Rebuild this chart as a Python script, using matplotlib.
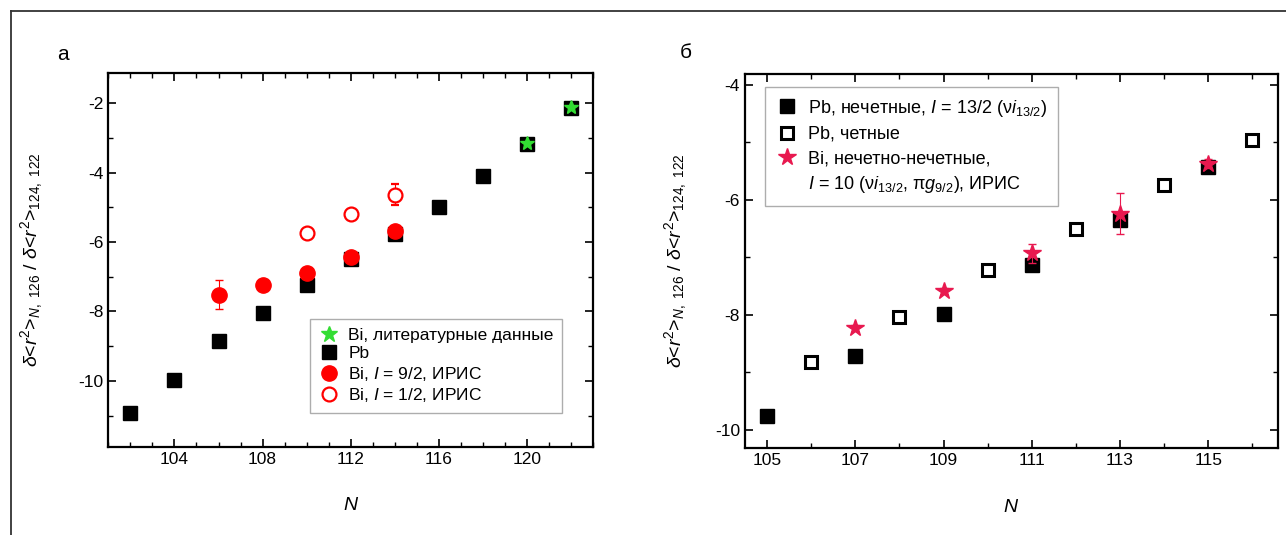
import numpy as np
import matplotlib
matplotlib.use('Agg')
import matplotlib.pyplot as plt
from matplotlib.lines import Line2D
from matplotlib.ticker import MultipleLocator

plt.rcParams['font.family'] = ['Liberation Sans', 'DejaVu Sans']
plt.rcParams['mathtext.fontset'] = 'custom'
plt.rcParams['mathtext.rm'] = 'Liberation Sans'
plt.rcParams['mathtext.it'] = 'Liberation Sans:italic'
plt.rcParams['axes.unicode_minus'] = False

# panel a data
n_pb_a = [102, 104, 106, 108, 110, 112, 114, 116, 118, 120, 122]
r_pb_a = [-10.93, -9.97, -8.85, -8.05, -7.24, -6.50, -5.78, -4.98, -4.10, -3.17, -2.14]
n_lit = [120, 122]
r_lit = [-3.15, -2.12]
n_bi92 = [106, 108, 110, 112, 114]
r_bi92 = [-7.52, -7.24, -6.90, -6.44, -5.67]
e_bi92 = [0.42, 0.05, 0.08, 0.08, 0.08]
n_bi12 = [110, 112, 114]
r_bi12 = [-5.75, -5.19, -4.64]
e_bi12 = [0.05, 0.06, 0.30]

# panel b data
n_pb_odd = [105, 107, 109, 111, 113, 115]
r_pb_odd = [-9.76, -8.72, -7.98, -7.14, -6.35, -5.43]
n_pb_even = [106, 108, 110, 112, 114, 116]
r_pb_even = [-8.82, -8.03, -7.22, -6.51, -5.75, -4.96]
n_bi_oo = [107, 109, 111, 113, 115]
r_bi_oo = [-8.23, -7.59, -6.93, -6.24, -5.37]
e_bi_oo = [0.05, 0.05, 0.16, 0.36, 0.08]

ylab = r'$\delta$<$r^2$>$_{N,\ 126}$ / $\delta$<$r^2$>$_{124,\ 122}$'
star_red = '#e8194f'
green = '#33dd33'

fig = plt.figure(figsize=(12.86, 5.35), dpi=100)
ax1 = fig.add_axes([0.0842, 0.165, 0.3772, 0.699])
ax2 = fig.add_axes([0.5793, 0.162, 0.4145, 0.700])

# frame around the figure (top and left)
fig.add_artist(Line2D([11 / 1286, 11 / 1286], [0, 1 - 11 / 535], color='#333333', lw=1.3))
fig.add_artist(Line2D([11 / 1286, 1], [1 - 11 / 535, 1 - 11 / 535], color='#333333', lw=1.3))

fig.text(63 / 1286, 1 - 55 / 535, 'а', fontsize=15, ha='center', va='center')
fig.text(686 / 1286, 1 - 52 / 535, 'б', fontsize=15, ha='center', va='center')

# panel a
ax1.plot(n_pb_a, r_pb_a, 's', color='black', ms=9.5, zorder=3)
ax1.plot(n_lit, r_lit, '*', color=green, ms=10, zorder=4)
ax1.errorbar(n_bi92, r_bi92, yerr=e_bi92, fmt='o', color='red', ms=11, capsize=3,
             elinewidth=0.8, zorder=5)
ax1.errorbar(n_bi12, r_bi12, yerr=e_bi12, fmt='o', mfc='white', mec='red', color='red',
             ms=10, mew=1.6, capsize=3, elinewidth=0.8, zorder=5)

ax1.set_xlim(101, 123)
ax1.set_ylim(-11.9, -1.12)
ax1.xaxis.set_major_locator(MultipleLocator(4))
ax1.xaxis.set_minor_locator(MultipleLocator(1))
ax1.yaxis.set_major_locator(MultipleLocator(2))
ax1.yaxis.set_minor_locator(MultipleLocator(1))

h1 = [Line2D([], [], ls='none', marker='*', color=green, ms=12),
      Line2D([], [], ls='none', marker='s', color='black', ms=10),
      Line2D([], [], ls='none', marker='o', color='red', ms=11),
      Line2D([], [], ls='none', marker='o', mfc='white', mec='red', mew=1.6, ms=10)]
l1 = ['Bi, литературные данные', 'Pb',
      'Bi, $\\it{I}$ = 9/2, ИРИС', 'Bi, $\\it{I}$ = 1/2, ИРИС']
leg1 = ax1.legend(h1, l1, loc='lower left', bbox_to_anchor=(0.416, 0.09), fontsize=12.5,
                  frameon=True, fancybox=False, edgecolor='#999999', handletextpad=0.5,
                  labelspacing=0.2, handlelength=1.2, borderpad=0.5, borderaxespad=0)
leg1.get_frame().set_linewidth(1.0)

# panel b
ax2.plot(n_pb_odd, r_pb_odd, 's', color='black', ms=9.5, zorder=3)
ax2.plot(n_pb_even, r_pb_even, 's', mfc='white', mec='black', mew=2.2, ms=8.5, zorder=3)
ax2.errorbar(n_bi_oo, r_bi_oo, yerr=e_bi_oo, fmt='*', color=star_red, ms=13, capsize=3,
             elinewidth=0.8, zorder=5)

h2 = [Line2D([], [], ls='none', marker='s', color='black', ms=9.5),
      Line2D([], [], ls='none', marker='s', mfc='white', mec='black', mew=2.2, ms=8.5),
      Line2D([], [], ls='none', marker='*', color=star_red, ms=13),
      Line2D([], [], ls='none', marker='none')]
l2 = ['Pb, нечетные, $\\it{I}$ = 13/2 (ν$\\it{i}_{13/2}$)', 'Pb, четные',
      'Bi, нечетно-нечетные,', '$\\it{I}$ = 10 (ν$\\it{i}_{13/2}$, π$\\it{g}_{9/2}$), ИРИС']
leg2 = ax2.legend(h2, l2, loc='upper left', bbox_to_anchor=(0.0375, 0.965), fontsize=13,
                  frameon=True, fancybox=False, edgecolor='#999999', handletextpad=0.6,
                  labelspacing=0.4, handlelength=1.2, borderpad=0.6, borderaxespad=0)
leg2.get_frame().set_linewidth(1.0)

ax2.set_xlim(104.5, 116.58)
ax2.set_ylim(-10.32, -3.81)
ax2.xaxis.set_major_locator(MultipleLocator(2, offset=1))
ax2.xaxis.set_minor_locator(MultipleLocator(1))
ax2.yaxis.set_major_locator(MultipleLocator(2))
ax2.yaxis.set_minor_locator(MultipleLocator(1))

for ax, lx in [(ax1, -0.13), (ax2, -0.105)]:
    ax.tick_params(which='both', direction='in', top=True, right=True, labelsize=12.5)
    ax.tick_params(which='major', length=6, width=1.2)
    ax.tick_params(which='minor', length=3.5, width=1.0)
    for s in ax.spines.values():
        s.set_linewidth(1.6)
    ax.set_ylabel(ylab, fontsize=14)
    ax.yaxis.set_label_coords(lx, 0.5)
    ax.set_xlabel('$\\it{N}$', fontsize=14)
    ax.xaxis.set_label_coords(0.5, -0.135)

fig.savefig('out.png', dpi=100)
